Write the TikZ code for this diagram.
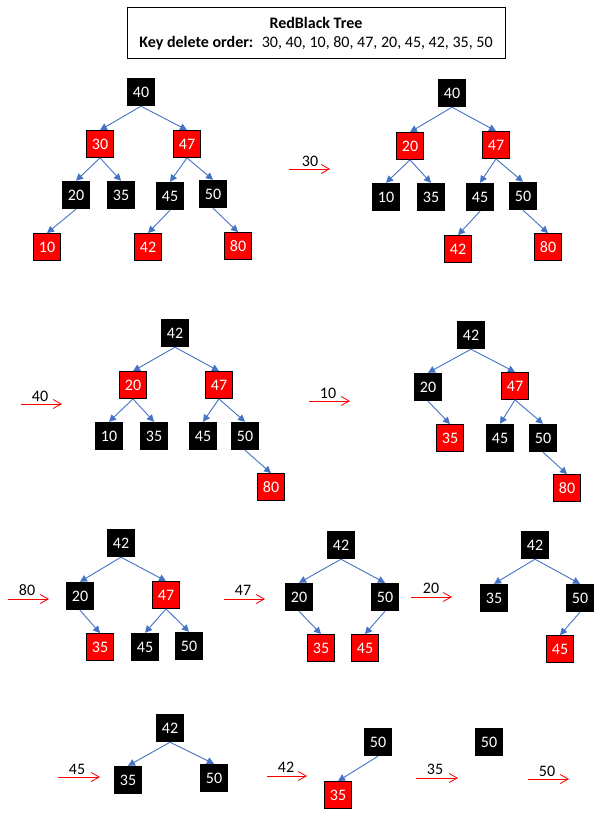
\documentclass[tikz,border=0pt]{standalone}
\usepackage{fontspec}
\setmainfont{Carlito}
\usetikzlibrary{arrows.meta}
\definecolor{linkblue}{HTML}{4472C4}
\begin{document}
\begin{tikzpicture}[x=1pt, y=-1pt, font=\fontsize{16}{19}\selectfont,
    bnode/.style={fill=black, text=white, minimum size=28pt, inner sep=0pt},
    rnode/.style={fill=red, draw=black, line width=0.8pt, text=white, minimum size=27pt, inner sep=0pt},
    link/.style={-{Triangle[length=7pt,width=7pt]}, draw=linkblue, line width=0.9pt},
    delarr/.style={-{Straight Barb[length=8pt,width=9pt]}, draw=red, line width=0.8pt},
    lbl/.style={inner sep=0pt}]

\useasboundingbox (0,0) rectangle (605,832);

\node[draw, line width=1pt, minimum width=378pt, minimum height=51pt, align=center,
    inner sep=0pt] (title) at (316,33.5)
    {\textbf{RedBlack Tree}\\\textbf{Key delete order:}~ 30, 40, 10, 80, 47, 20, 45, 42, 35, 50};

% tree before any delete
\node[bnode] (A40) at (141,92) {40};
\node[rnode] (A30) at (100,144) {30};
\node[rnode] (A47) at (187,144) {47};
\node[bnode] (A20) at (76,195) {20};
\node[bnode] (A35) at (121,195) {35};
\node[bnode] (A45) at (170,196) {45};
\node[bnode] (A50) at (213,194) {50};
\node[rnode] (A10) at (47,247) {10};
\node[rnode] (A42) at (148,247) {42};
\node[rnode] (A80) at (238,246) {80};
\draw[link] (A40.south) -- (A30.north);
\draw[link] (A40.south) -- (A47.north);
\draw[link] (A30.south) -- (A20.north);
\draw[link] (A30.south) -- (A35.north);
\draw[link] (A47.south) -- (A45.north);
\draw[link] (A47.south) -- (A50.north);
\draw[link] (A20.south) -- (A10.north);
\draw[link] (A45.south) -- (A42.north);
\draw[link] (A50.south) -- (A80.north);

% delete 30
\coordinate (s30) at (289,169);
\coordinate (e30) at (330,169);
\draw[delarr] (s30) -- (e30);
\node[lbl] (k30) at (310,161) {30};
\node[bnode] (B40) at (452,93) {40};
\node[rnode] (B20) at (410,146) {20};
\node[rnode] (B47) at (496,145) {47};
\node[bnode] (B10) at (386,197) {10};
\node[bnode] (B35) at (431,197) {35};
\node[bnode] (B45) at (480,197) {45};
\node[bnode] (B50) at (523,196) {50};
\node[rnode] (B42) at (458,249) {42};
\node[rnode] (B80) at (548,247) {80};
\draw[link] (B40.south) -- (B20.north);
\draw[link] (B40.south) -- (B47.north);
\draw[link] (B20.south) -- (B10.north);
\draw[link] (B20.south) -- (B35.north);
\draw[link] (B47.south) -- (B45.north);
\draw[link] (B47.south) -- (B50.north);
\draw[link] (B45.south) -- (B42.north);
\draw[link] (B50.south) -- (B80.north);

% delete 40
\coordinate (s40) at (21,404);
\coordinate (e40) at (62,404);
\draw[delarr] (s40) -- (e40);
\node[lbl] (k40) at (40,396) {40};
\node[bnode] (C42) at (175,333) {42};
\node[rnode] (C20) at (133,385) {20};
\node[rnode] (C47) at (219,385) {47};
\node[bnode] (C10) at (109,436) {10};
\node[bnode] (C35) at (154,436) {35};
\node[bnode] (C45) at (203,436) {45};
\node[bnode] (C50) at (245,436) {50};
\node[rnode] (C80) at (271,487) {80};
\draw[link] (C42.south) -- (C20.north);
\draw[link] (C42.south) -- (C47.north);
\draw[link] (C20.south) -- (C10.north);
\draw[link] (C20.south) -- (C35.north);
\draw[link] (C47.south) -- (C45.north);
\draw[link] (C47.south) -- (C50.north);
\draw[link] (C50.south) -- (C80.north);

% delete 10
\coordinate (s10) at (309,401);
\coordinate (e10) at (350,401);
\draw[delarr] (s10) -- (e10);
\node[lbl] (k10) at (328,393) {10};
\node[bnode] (D42) at (471,335) {42};
\node[bnode] (D20) at (428,387) {20};
\node[rnode] (D47) at (515,386) {47};
\node[rnode] (D35) at (450,438) {35};
\node[bnode] (D45) at (500,438) {45};
\node[bnode] (D50) at (543,438) {50};
\node[rnode] (D80) at (567,488) {80};
\draw[link] (D42.south) -- (D20.north);
\draw[link] (D42.south) -- (D47.north);
\draw[link] (D20.south) -- (D35.north);
\draw[link] (D47.south) -- (D45.north);
\draw[link] (D47.south) -- (D50.north);
\draw[link] (D50.south) -- (D80.north);

% delete 80
\coordinate (s80) at (8,599);
\coordinate (e80) at (49,599);
\draw[delarr] (s80) -- (e80);
\node[lbl] (k80) at (27,590) {80};
\node[bnode] (E42) at (121,543) {42};
\node[bnode] (E20) at (80,596) {20};
\node[rnode] (E47) at (166,595) {47};
\node[rnode] (E35) at (100,647) {35};
\node[bnode] (E45) at (145,647) {45};
\node[bnode] (E50) at (189,646) {50};
\draw[link] (E42.south) -- (E20.north);
\draw[link] (E42.south) -- (E47.north);
\draw[link] (E20.south) -- (E35.north);
\draw[link] (E47.south) -- (E45.north);
\draw[link] (E47.south) -- (E50.north);

% delete 47
\coordinate (s47) at (224,599);
\coordinate (e47) at (265,599);
\draw[delarr] (s47) -- (e47);
\node[lbl] (k47) at (243,590) {47};
\node[bnode] (F42) at (341,545) {42};
\node[bnode] (F20) at (299,597) {20};
\node[bnode] (F50) at (385,597) {50};
\node[rnode] (F35) at (321,648) {35};
\node[rnode] (F45) at (365,648) {45};
\draw[link] (F42.south) -- (F20.north);
\draw[link] (F42.south) -- (F50.north);
\draw[link] (F20.south) -- (F35.north);
\draw[link] (F50.south) -- (F45.north);

% delete 20
\coordinate (s20) at (411,597);
\coordinate (e20) at (452,597);
\draw[delarr] (s20) -- (e20);
\node[lbl] (k20) at (431,588) {20};
\node[bnode] (G42) at (535,545) {42};
\node[bnode] (G35) at (494,598) {35};
\node[bnode] (G50) at (580,598) {50};
\node[rnode] (G45) at (560,649) {45};
\draw[link] (G42.south) -- (G35.north);
\draw[link] (G42.south) -- (G50.north);
\draw[link] (G50.south) -- (G45.north);

% delete 45
\coordinate (s45) at (58,777);
\coordinate (e45) at (100,777);
\draw[delarr] (s45) -- (e45);
\node[lbl] (k45) at (77,769) {45};
\node[bnode] (H42) at (170,728) {42};
\node[bnode] (H35) at (128,780) {35};
\node[bnode] (H50) at (214,778) {50};
\draw[link] (H42.south) -- (H35.north);
\draw[link] (H42.south) -- (H50.north);

% delete 42
\coordinate (s42) at (267,776);
\coordinate (e42) at (307,776);
\draw[delarr] (s42) -- (e42);
\node[lbl] (k42) at (286,767) {42};
\node[bnode] (I50) at (378,742) {50};
\node[rnode] (I35) at (338,795) {35};
\draw[link] (I50.south) -- (I35.north);

% delete 35
\coordinate (s35) at (416,778);
\coordinate (e35) at (458,778);
\draw[delarr] (s35) -- (e35);
\node[lbl] (k35) at (435,769) {35};
\node[bnode] (J50) at (489,742) {50};

% delete 50
\coordinate (s50) at (528,779);
\coordinate (e50) at (569,779);
\draw[delarr] (s50) -- (e50);
\node[lbl] (k50) at (547,771) {50};

\end{tikzpicture}
\end{document}
